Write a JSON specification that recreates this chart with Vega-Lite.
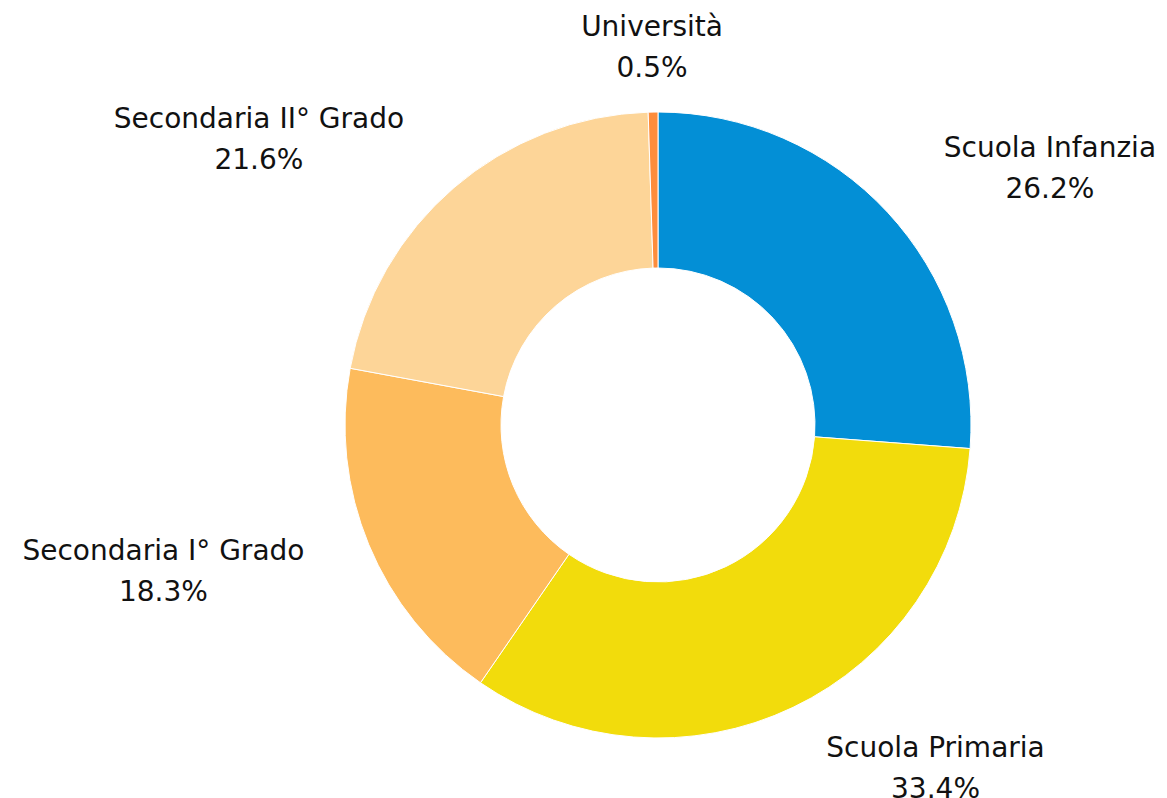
{
  "$schema": "https://vega.github.io/schema/vega-lite/v6.json",
  "autosize": "none",
  "width": 1018,
  "height": 746,
  "padding": {"left": 149, "top": 52, "right": 0, "bottom": 0},
  "background": "white",
  "config": {"view": {"stroke": null}},
  "data": {
    "values": [
      {"k": 1, "cat": "Scuola Infanzia", "pct": 26.2},
      {"k": 2, "cat": "Scuola Primaria", "pct": 33.4},
      {"k": 3, "cat": "Secondaria I° Grado", "pct": 18.3},
      {"k": 4, "cat": "Secondaria II° Grado", "pct": 21.6},
      {"k": 5, "cat": "Università", "pct": 0.5}
    ]
  },
  "transform": [
    {"calculate": "datum.cat + '\\n' + format(datum.pct, '.1f') + '%'", "as": "label"}
  ],
  "encoding": {
    "theta": {"field": "pct", "type": "quantitative", "stack": true},
    "order": {"field": "k", "type": "quantitative"}
  },
  "layer": [
    {
      "mark": {"type": "arc", "outerRadius": 313, "innerRadius": 157, "stroke": "white", "strokeWidth": 1},
      "encoding": {
        "color": {
          "field": "cat",
          "type": "nominal",
          "scale": {
            "domain": ["Scuola Infanzia", "Scuola Primaria", "Secondaria I° Grado", "Secondaria II° Grado", "Università"],
            "range": ["#038fd6", "#f2dc0c", "#fdbb5c", "#fdd598", "#fd8d3c"]
          },
          "legend": null
        }
      }
    },
    {
      "mark": {
        "type": "text",
        "radius": 379,
        "font": "DejaVu Sans",
        "fontSize": 28,
        "lineBreak": "\n",
        "lineHeight": 41,
        "align": "center",
        "baseline": "middle",
        "dy": -18,
        "color": "#111111",
        "dx": {"expr": "sin(PI * (datum.pct_start + datum.pct_end) / 100) > 0.2 ? length(datum.cat) * 7.6 : (sin(PI * (datum.pct_start + datum.pct_end) / 100) < -0.2 ? -length(datum.cat) * 7.6 : 0)"}
      },
      "encoding": {
        "text": {"field": "label", "type": "nominal"}
      }
    }
  ]
}
